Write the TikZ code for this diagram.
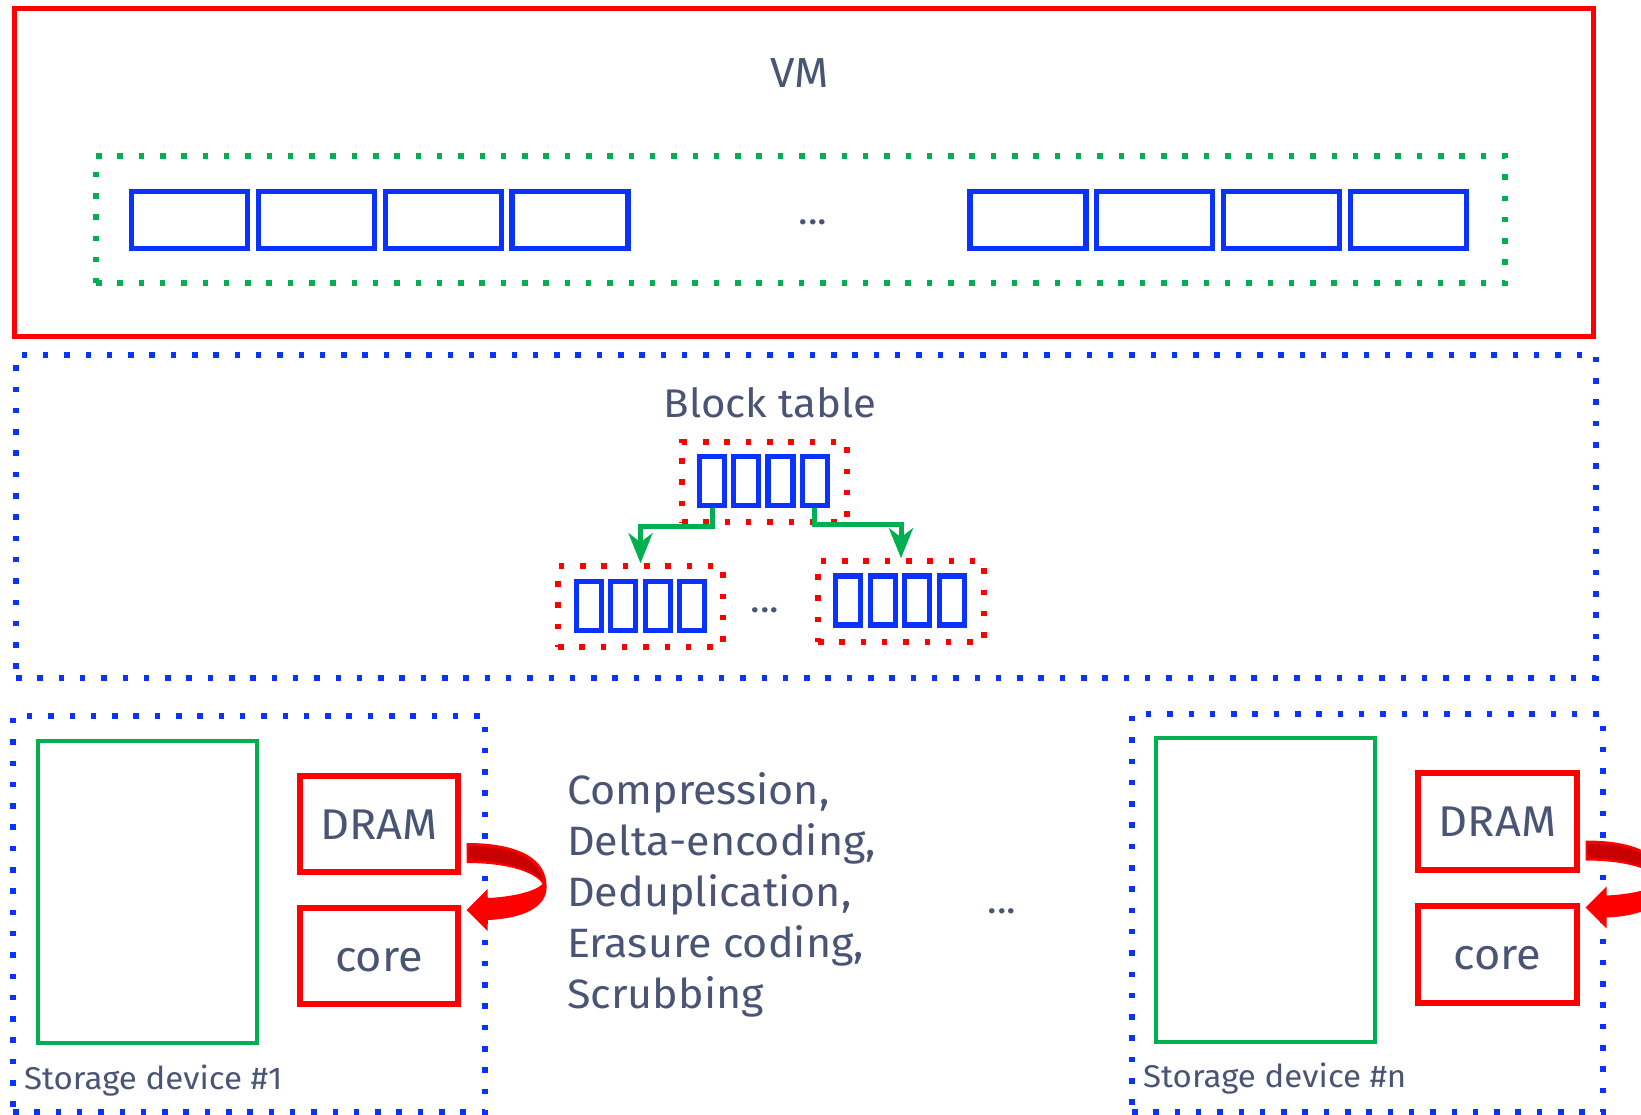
\documentclass[tikz,border=0pt]{standalone}
\usepackage{fontspec}
\setmainfont[FakeStretch=1.05]{Fira Sans}
\usetikzlibrary{arrows.meta}
\definecolor{txt}{HTML}{4A5575}
\definecolor{vred}{HTML}{FF0000}
\definecolor{dred}{HTML}{C80000}
\definecolor{vblue}{HTML}{0A33FF}
\definecolor{vgreen}{HTML}{00B050}
\tikzset{
  dotline/.style={line width=5.5pt, dash pattern=on 5.5pt off 15.8pt},
  redframe/.style={draw=vred, line width=5pt, inner sep=0pt},
  reddots/.style={draw=vred, dotline, inner sep=0pt},
  bluedots/.style={draw=vblue, dotline, inner sep=0pt},
  greendots/.style={draw=vgreen, dotline, inner sep=0pt},
  bigcell/.style={draw=vblue, line width=5.2pt, inner sep=0pt, minimum width=116pt, minimum height=57pt},
  smallcell/.style={draw=vblue, line width=5.2pt, inner sep=0pt, minimum width=25pt, minimum height=49pt},
  disk/.style={draw=vgreen, line width=4.6pt, inner sep=0pt, minimum width=219pt},
  unit/.style={draw=vred, line width=5.2pt, inner sep=0pt, minimum width=158pt, minimum height=96pt,
    text=txt, font=\fontsize{43}{50}\selectfont, text height=30pt, text depth=0pt},
  lbl/.style={text=txt, inner sep=0pt, font=\fontsize{40}{48}\selectfont},
  body/.style={text=txt, inner sep=0pt, anchor=base west, font=\fontsize{41}{48}\selectfont},
  small/.style={text=txt, inner sep=0pt, anchor=base west, font=\fontsize{31.5}{38}\selectfont},
  ellip/.style={text=txt, inner sep=0pt, font=\fontsize{38}{44}\selectfont},
  link/.style={draw=vgreen, line width=5pt, -{Stealth[length=30pt,width=24pt,inset=9pt]}},
  ribbon/.pic={
    % curled hand-off arrow: light face, darker back of the ribbon on top
    \fill[vred] (6,19) .. controls (57,19) and (87,34) .. (86,64)
      .. controls (85,88) and (52,95) .. (27,96) -- (27,107) -- (6,86) -- (27,65) -- (27,74)
      .. controls (50,73) and (74,68) .. (82,60)
      .. controls (75,48) and (47,39) .. (6,39) -- cycle;
    \fill[dred] (8,22) .. controls (52,22) and (77,34) .. (82,56)
      .. controls (72,46) and (47,37) .. (8,36) -- cycle;
  }
}
\begin{document}
\begin{tikzpicture}[x=1pt,y=-1pt]
\useasboundingbox (0,0) rectangle (1641,1114);
\clip (0,0) rectangle (1641,1114);
\fill[white] (0,0) rectangle (1641,1114);

% ---- VM ----
\node[redframe, minimum width=1579pt, minimum height=327.5pt] (vm) at (803.5,172.25) {};
\node[lbl, anchor=base, font=\fontsize{42}{48}\selectfont] (vmlabel) at (800,87) {VM};
\node[greendots, minimum width=1409pt, minimum height=127pt] (pages) at (800.5,219.5) {};
\foreach \i in {0,1,2,3} {
  \node[bigcell] (pa\i) at (189.5+126.8*\i,220) {};
  \node[bigcell] (pb\i) at (1028+126.8*\i,220) {};
}
\node[ellip] (vmdots) at (813,222) {...};

% ---- Block table ----
\node[bluedots, minimum width=1580pt, minimum height=323pt] (btable) at (806,516.5) {};
\node[lbl, anchor=base] (btlabel) at (770,417) {Block table};

\node[reddots, minimum width=165pt, minimum height=80pt] (root) at (764.5,482) {};
\node[reddots, minimum width=165pt, minimum height=81pt] (leafa) at (640.5,606.5) {};
\node[reddots, minimum width=166pt, minimum height=81pt] (leafb) at (901,601.5) {};
\foreach \i in {0,1,2,3} {
  \node[smallcell] (r\i) at (712+34.2*\i,481) {};
  \node[smallcell] (la\i) at (589+34.3*\i,606) {};
  \node[smallcell] (lb\i) at (848+34.6*\i,600.5) {};
}
\node[ellip] (btdots) at (765,610) {...};

\draw[link] (r0.south) -- ++(0,18) -| (leafa.north);
\draw[link] (r3.south) -- ++(0,16) -| (leafb.north);

% ---- Storage device #1 ----
\node[bluedots, minimum width=472pt, minimum height=396pt] (sd1) at (249,914) {};
\node[disk, minimum height=302pt] (disk1) at (147.5,892) {};
\node[unit] (dram1) at (379,824) {DRAM};
\node[unit] (core1) at (379,956) {core};
\pic at (dram1.east) {ribbon};
\node[small] (sd1label) at (24,1089) {Storage device \#1};

% ---- Storage device #n ----
\node[bluedots, minimum width=471pt, minimum height=398pt] (sdn) at (1367.5,913) {};
\node[disk, minimum height=304pt] (diskn) at (1265.5,890) {};
\node[unit, minimum width=159pt, minimum height=97pt] (dramn) at (1497.5,821.5) {DRAM};
\node[unit, minimum width=159pt, minimum height=97pt] (coren) at (1497.5,954.5) {core};
\pic at (dramn.east) {ribbon};
\node[small] (sdnlabel) at (1143,1087) {Storage device \#n};

% ---- data services ----
\node[body] (svc1) at (567,804) {Compression,};
\node[body] (svc2) at (567,855) {Delta-encoding,};
\node[body] (svc3) at (567,906) {Deduplication,};
\node[body] (svc4) at (567,957) {Erasure coding,};
\node[body] (svc5) at (567,1008) {Scrubbing};
\node[ellip] (sddots) at (1002,911) {...};
\end{tikzpicture}
\end{document}
